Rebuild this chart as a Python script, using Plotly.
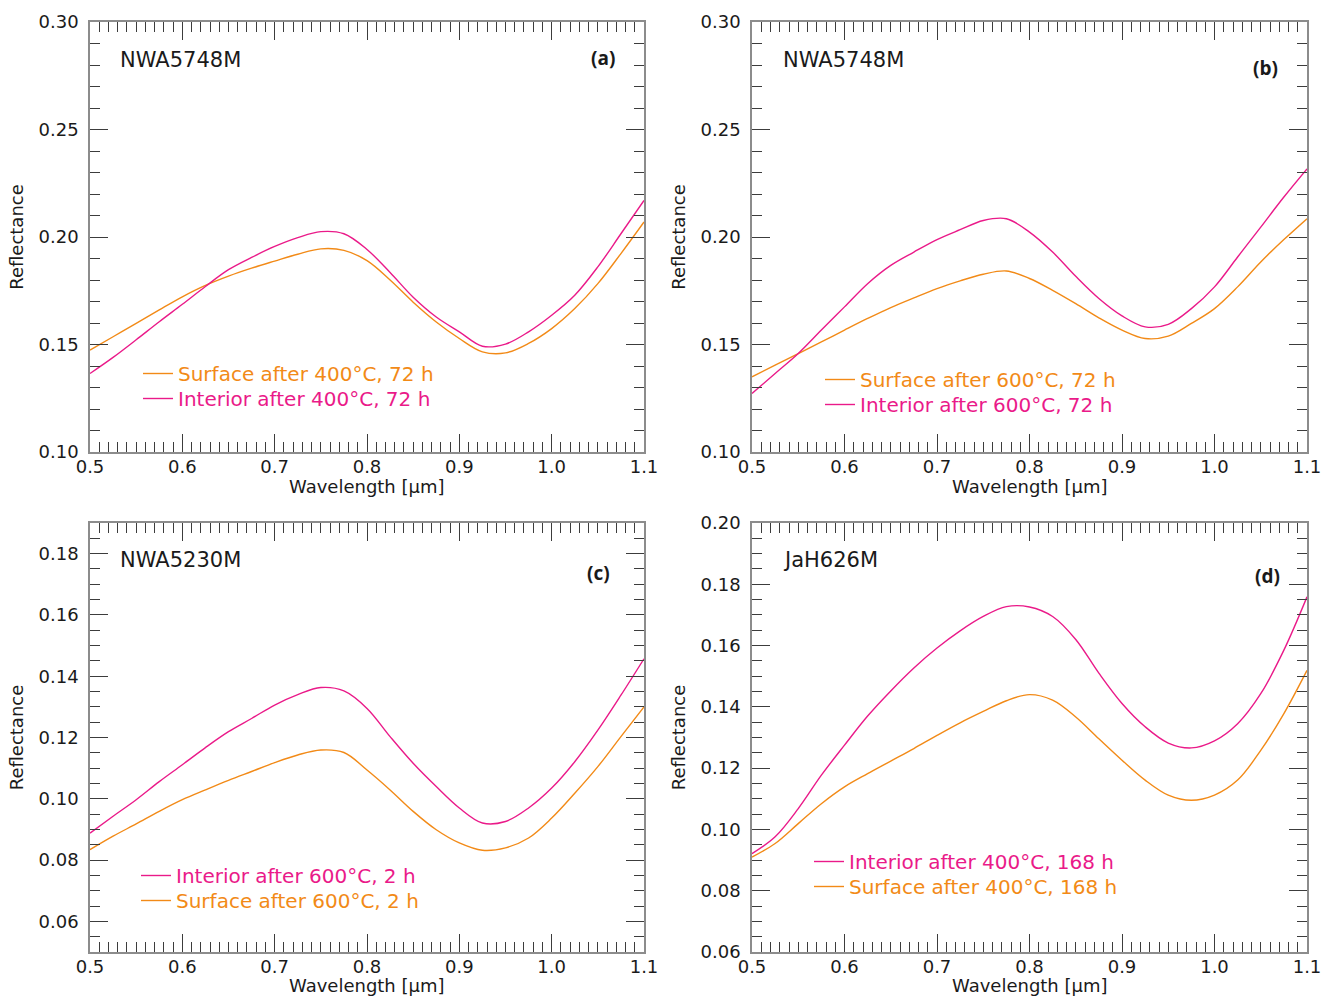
import plotly.graph_objects as go

W, H = 1322, 997

# ---------------- data ----------------
wavelength = [0.500, 0.525, 0.550, 0.575, 0.600, 0.625, 0.650, 0.675, 0.700,
              0.725, 0.750, 0.775, 0.800, 0.825, 0.850, 0.875, 0.900, 0.925,
              0.950, 0.975, 1.000, 1.025, 1.050, 1.075, 1.100]

# (a) NWA5748M, 400 °C, 72 h
a_surface = [0.1474, 0.1536, 0.1598, 0.1661, 0.1722, 0.1775, 0.1818, 0.1855, 0.1888,
             0.1920, 0.1945, 0.1938, 0.1890, 0.1800, 0.1697, 0.1605, 0.1528, 0.1466,
             0.1461, 0.1505, 0.1574, 0.1667, 0.1783, 0.1923, 0.2070]
a_interior = [0.1365, 0.1440, 0.1522, 0.1606, 0.1687, 0.1770, 0.1848, 0.1905, 0.1956,
              0.1997, 0.2025, 0.2015, 0.1942, 0.1835, 0.1720, 0.1628, 0.1559, 0.1492,
              0.1502, 0.1559, 0.1636, 0.1729, 0.1861, 0.2015, 0.2170]

# (b) NWA5748M, 600 °C, 72 h
b_surface = [0.1350, 0.1404, 0.1458, 0.1512, 0.1567, 0.1621, 0.1672, 0.1717, 0.1760,
             0.1796, 0.1827, 0.1842, 0.1807, 0.1752, 0.1690, 0.1624, 0.1567, 0.1528,
             0.1539, 0.1598, 0.1667, 0.1768, 0.1884, 0.1988, 0.2085]
b_interior = [0.1272, 0.1365, 0.1458, 0.1567, 0.1675, 0.1783, 0.1868, 0.1930, 0.1988,
              0.2034, 0.2077, 0.2085, 0.2023, 0.1930, 0.1817, 0.1714, 0.1633, 0.1582,
              0.1594, 0.1667, 0.1768, 0.1907, 0.2046, 0.2186, 0.2317]

# (c) NWA5230M, 600 °C, 2 h
c_interior = [0.0888, 0.0943, 0.0997, 0.1056, 0.1111, 0.1167, 0.1219, 0.1262, 0.1306,
              0.1340, 0.1363, 0.1352, 0.1295, 0.1203, 0.1116, 0.1040, 0.0970, 0.0921,
              0.0926, 0.0970, 0.1035, 0.1121, 0.1224, 0.1338, 0.1457]
c_surface = [0.0834, 0.0878, 0.0918, 0.0959, 0.0997, 0.1029, 0.1060, 0.1089, 0.1118,
             0.1143, 0.1159, 0.1151, 0.1094, 0.1029, 0.0959, 0.0899, 0.0856, 0.0832,
             0.0840, 0.0872, 0.0937, 0.1018, 0.1105, 0.1203, 0.1300]

# (d) JaH626M, 400 °C, 168 h
d_interior = [0.0921, 0.0976, 0.1068, 0.1177, 0.1275, 0.1370, 0.1452, 0.1527, 0.1592,
              0.1648, 0.1695, 0.1727, 0.1726, 0.1695, 0.1620, 0.1510, 0.1411, 0.1335,
              0.1282, 0.1266, 0.1289, 0.1345, 0.1443, 0.1585, 0.1759]
d_surface = [0.0910, 0.0954, 0.1019, 0.1084, 0.1139, 0.1182, 0.1223, 0.1264, 0.1307,
             0.1348, 0.1385, 0.1420, 0.1440, 0.1422, 0.1367, 0.1296, 0.1226, 0.1161,
             0.1112, 0.1095, 0.1112, 0.1161, 0.1258, 0.1378, 0.1519]

samples = ["NWA5748M", "NWA5748M", "NWA5230M", "JaH626M"]
letters = ["(a)", "(b)", "(c)", "(d)"]
x_ticks = [0.5, 0.6, 0.7, 0.8, 0.9, 1.0, 1.1]
x_title = "Wavelength [µm]"
y_title = "Reflectance"

SURF = "#F28A17"
INTR = "#EA1A89"
FONT = "DejaVu Sans"
TXT = "#1a1a1a"


def px(x):
    return x / W


def py(y):
    return 1 - y / H


panels = [
    dict(xd=(90, 644), yd=(22, 452), yr=[0.10, 0.30], t0=0.10, dt=0.05, mn=0.01,
         series=[("Surface after 400°C, 72 h", a_surface, SURF),
                 ("Interior after 400°C, 72 h", a_interior, INTR)],
         leg=(178, 373), lab=(118, 60), let=(603, 58), xt=487),
    dict(xd=(752, 1307), yd=(22, 452), yr=[0.10, 0.30], t0=0.10, dt=0.05, mn=0.01,
         series=[("Surface after 600°C, 72 h", b_surface, SURF),
                 ("Interior after 600°C, 72 h", b_interior, INTR)],
         leg=(860, 379), lab=(781, 60), let=(1265, 68), xt=487),
    dict(xd=(90, 644), yd=(523, 952), yr=[0.05, 0.19], t0=0.06, dt=0.02, mn=0.005,
         series=[("Interior after 600°C, 2 h", c_interior, INTR),
                 ("Surface after 600°C, 2 h", c_surface, SURF)],
         leg=(176, 875), lab=(118, 560), let=(598, 573), xt=985),
    dict(xd=(752, 1307), yd=(523, 952), yr=[0.06, 0.20], t0=0.06, dt=0.02, mn=0.005,
         series=[("Interior after 400°C, 168 h", d_interior, INTR),
                 ("Surface after 400°C, 168 h", d_surface, SURF)],
         leg=(849, 861), lab=(781, 560), let=(1267, 576), xt=985),
]

fig = go.Figure()
layout = dict(
    width=W, height=H, margin=dict(l=0, r=0, t=0, b=0),
    paper_bgcolor="white", plot_bgcolor="white",
    font=dict(family=FONT, size=18, color=TXT),
    showlegend=True,
)
annotations = []
leg_count = 0
ROW = 25

for i, p in enumerate(panels):
    n = "" if i == 0 else str(i + 1)
    xa, ya = "x" + n, "y" + n
    lx, ly = p["leg"]
    for k, (name, vals, col) in enumerate(p["series"]):
        leg_count += 1
        leg_name = "legend" if leg_count == 1 else "legend%d" % leg_count
        fig.add_trace(go.Scatter(
            x=wavelength, y=vals, mode="lines", xaxis=xa, yaxis=ya,
            name='<span style="color:%s">%s</span>' % (col, name),
            line=dict(color=col, width=1.4, shape="spline", smoothing=1.0),
            legend=leg_name,
        ))
        layout[leg_name] = dict(
            x=px(lx - 40), y=py(ly + k * ROW - 19), xanchor="left", yanchor="top",
            bgcolor="rgba(0,0,0,0)", borderwidth=0,
            font=dict(family=FONT, size=20), itemwidth=30,
        )
    common = dict(
        showline=True, linecolor="#8c8c8c", linewidth=1.5, mirror="ticks",
        ticks="inside", ticklen=18, tickwidth=1.3, tickcolor="#3c3c3c",
        showgrid=False, zeroline=False, automargin=False,
        ticklabeloverflow="allow",
        tickfont=dict(family=FONT, size=18, color=TXT),
        minor=dict(ticks="inside", ticklen=10, tickwidth=1.1, tickcolor="#3c3c3c",
                   showgrid=False),
    )
    layout["xaxis" + n] = dict(
        common, domain=[px(p["xd"][0]), px(p["xd"][1])], anchor=ya,
        range=[0.5, 1.1], tickmode="array", tickvals=x_ticks, tickformat=".1f",
        minor=dict(common["minor"], dtick=0.01, tick0=0.5),
        ticklabelstandoff=-2,
    )
    layout["yaxis" + n] = dict(
        common, domain=[py(p["yd"][1]), py(p["yd"][0])], anchor=xa,
        range=p["yr"], tick0=p["t0"], dtick=p["dt"], tickformat=".2f",
        minor=dict(common["minor"], dtick=p["mn"], tick0=p["t0"]),
        ticklabelstandoff=6,
        title=dict(text=y_title, standoff=10, font=dict(family=FONT, size=18, color=TXT)),
    )
    annotations.append(dict(
        text=x_title, x=px((p["xd"][0] + p["xd"][1]) / 2), y=py(p["xt"]),
        xref="paper", yref="paper", xanchor="center", yanchor="middle", showarrow=False,
        font=dict(family=FONT, size=18, color=TXT)))
    annotations.append(dict(
        text=samples[i], x=px(p["lab"][0]), y=py(p["lab"][1]), xref="paper", yref="paper",
        xanchor="left", yanchor="middle", showarrow=False,
        font=dict(family=FONT, size=21, color=TXT)))
    annotations.append(dict(
        text="<b>%s</b>" % letters[i], x=px(p["let"][0]), y=py(p["let"][1]),
        xref="paper", yref="paper", xanchor="center", yanchor="middle", showarrow=False,
        font=dict(family="Open Sans", size=19, color=TXT)))

layout["annotations"] = annotations
fig.update_layout(**layout)
# remove the default page margin so the figure fills the window exactly
fig.write_html(
    "out.html",
    config={"displayModeBar": False},
    post_script="document.body.style.margin='0';document.body.style.overflow='hidden';",
)
